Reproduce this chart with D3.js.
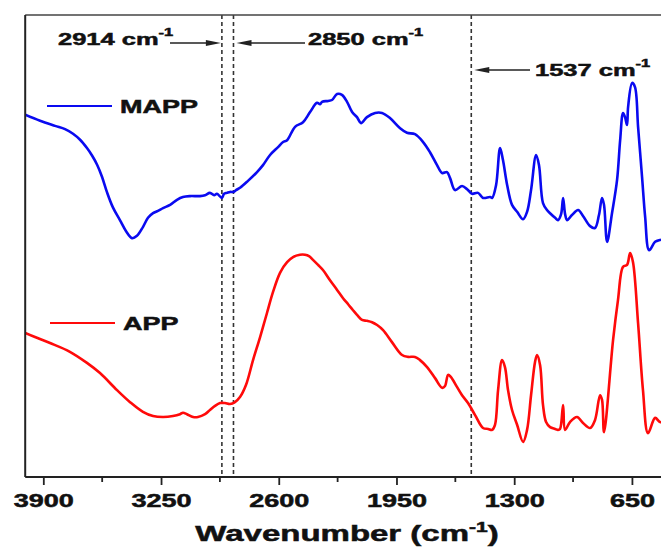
<!DOCTYPE html>
<html>
<head>
<meta charset="utf-8">
<script src="https://cdn.jsdelivr.net/npm/d3@7"></script>
<style>
  html, body { margin: 0; padding: 0; background: #fff; }
  svg { display: block; font-family: "Liberation Sans", Arial, sans-serif; font-weight: bold; }
</style>
</head>
<body>
<svg id="chart" width="661" height="550"></svg>
<script>
// FTIR spectra of MAPP and APP (transmittance, arbitrary units, offset)
const mappWavenumber = [4000,3918,3835,3780,3736,3697,3659,3631,3603,3576,3548,3515,3477,3443,3410,3383,3350,3322,3294,3267,3239,3200,3162,3129,3090,3035,3007,2980,2957,2941,2914,2902,2886,2869,2850,2836,2814,2770,2720,2687,2648,2604,2576,2554,2510,2466,2427,2389,2372,2361,2328,2306,2278,2251,2223,2195,2168,2146,2113,2068,2030,1986,1930,1892,1848,1803,1765,1726,1698,1671,1654,1627,1588,1560,1533,1500,1472,1433,1422,1400,1378,1362,1339,1312,1284,1251,1229,1207,1179,1163,1141,1119,1102,1074,1058,1041,1030,1019,1008,981,947,920,881,854,832,815,804,787,760,732,715,699,688,677,671,649,633,616,594,577,555,522,495,467];
const mappSignal = [78.4,77.1,76.0,75.3,74.3,73.0,71.2,69.6,67.6,65.0,61.6,58.3,55.6,53.2,51.7,52.2,54.1,56.1,57.1,57.6,58.2,58.9,60.0,60.6,60.8,60.8,61.0,61.5,61.0,61.3,60.4,61.3,61.5,61.7,61.7,62.1,62.6,64.1,66.0,67.5,69.7,71.4,72.5,72.9,75.8,76.8,79.0,81.0,80.7,81.2,81.4,81.6,82.9,82.7,81.2,79.0,77.9,76.6,77.9,78.8,78.8,77.7,75.5,74.5,74.2,72.5,70.3,67.5,65.8,66.0,64.7,62.1,63.0,62.3,61.3,61.5,60.4,60.6,60.4,63.2,71.2,68.6,63.2,58.9,57.4,55.8,57.4,62.1,69.7,67.5,59.3,57.8,57.1,56.1,55.6,56.9,60.4,56.9,55.6,56.7,57.8,56.5,54.3,53.9,56.7,60.4,58.9,50.9,57.1,64.3,72.9,78.8,77.9,76.2,80.1,85.3,84.4,75.8,64.9,56.3,49.1,50.9,51.3,51.5];

const appWavenumber = [4000,3946,3863,3753,3659,3587,3493,3421,3350,3294,3239,3184,3145,3129,3107,3073,3046,3007,2980,2952,2924,2897,2869,2842,2814,2781,2742,2703,2665,2632,2593,2554,2521,2483,2455,2433,2411,2383,2356,2317,2278,2245,2217,2190,2168,2140,2113,2085,2057,2024,1975,1919,1886,1848,1820,1781,1737,1698,1682,1665,1649,1616,1588,1555,1516,1472,1444,1422,1406,1389,1367,1351,1334,1312,1284,1251,1229,1207,1185,1174,1157,1141,1124,1102,1074,1058,1047,1030,1019,992,953,920,881,854,826,815,804,754,727,699,677,660,644,616,589,561,522,495,467];
const appSignal = [31.2,30.3,29.0,27.1,24.7,22.5,18.8,16.2,14.1,13.2,13.0,13.2,13.6,13.9,13.6,13.0,13.0,13.6,14.5,15.4,16.0,16.0,15.8,16.2,17.3,19.9,25.3,30.3,35.5,40.0,44.2,46.5,47.6,48.1,48.1,47.8,47.0,45.9,44.8,42.6,40.5,38.7,37.4,36.1,35.1,34.0,33.8,33.5,32.9,31.8,29.2,26.4,26.0,26.0,25.3,23.8,21.4,19.3,19.7,22.1,21.6,19.5,17.7,16.0,13.4,10.6,10.4,10.2,11.3,18.8,25.3,23.8,18.8,14.5,11.3,7.6,10.2,17.7,24.9,26.4,24.2,15.6,11.9,10.8,10.4,10.2,10.4,15.6,10.2,11.9,13.0,11.7,10.6,12.3,17.7,16.7,9.7,29.7,38.3,45.5,45.9,48.5,46.5,33.3,18.8,9.5,12.8,11.9,12.0];

const seriesNames = ["MAPP", "APP"];
const seriesColors = ["#0a0af0", "#ff0a0a"];

const majorTicks = [3900, 3250, 2600, 1950, 1300, 650];
const minorTicks = [3575, 2925, 2275, 1625, 975];
const markerBands = [2914, 2850, 1537];

const svg = d3.select("#chart");
const plotLeft = 25.2, plotRight = 677.2, plotTop = 15, plotBottom = 477;

const x = d3.scaleLinear().domain([4000, 400]).range([plotLeft, plotRight]);
const y = d3.scaleLinear().domain([0, 100]).range([plotBottom, plotTop]);

// Stretched heavy text helper (wide typeface look)
function wideText(g, tx, ty, size, anchor) {
  return g.append("text")
    .attr("transform", `translate(${tx},${ty}) scale(1.5,1)`)
    .attr("font-size", size)
    .attr("text-anchor", anchor || "start")
    .attr("fill", "#111")
    .attr("stroke", "#111")
    .attr("stroke-width", 0.5);
}

svg.append("clipPath").attr("id", "plotClip")
  .append("rect").attr("x", plotLeft).attr("y", plotTop)
  .attr("width", plotRight - plotLeft).attr("height", plotBottom - plotTop);

// Marker lines
svg.append("g").selectAll("line").data(markerBands).join("line")
  .attr("x1", d => x(d)).attr("x2", d => x(d))
  .attr("y1", plotTop).attr("y2", plotBottom)
  .attr("stroke", "#333").attr("stroke-width", 1.6)
  .attr("stroke-dasharray", "4,3");

// Spectra
const line = d3.line().x(d => x(d[0])).y(d => y(d[1])).curve(d3.curveCatmullRom.alpha(0.5));
const curves = [d3.zip(mappWavenumber, mappSignal), d3.zip(appWavenumber, appSignal)];
svg.append("g").attr("clip-path", "url(#plotClip)")
  .selectAll("path").data(curves).join("path")
  .attr("d", line)
  .attr("fill", "none")
  .attr("stroke", (d, i) => seriesColors[i])
  .attr("stroke-width", 2.6)
  .attr("stroke-linejoin", "round");

// Frame
svg.append("line").attr("x1", plotLeft).attr("x2", 661).attr("y1", plotTop).attr("y2", plotTop)
  .attr("stroke", "#444").attr("stroke-width", 1.6);
svg.append("line").attr("x1", plotLeft).attr("x2", plotLeft).attr("y1", plotTop).attr("y2", plotBottom)
  .attr("stroke", "#222").attr("stroke-width", 2);

// Bottom axis
const axis = d3.axisBottom(x).tickValues(majorTicks).tickSize(8).tickSizeOuter(0).tickFormat(d => d);
const ax = svg.append("g").attr("transform", `translate(0,${plotBottom})`).call(axis);
ax.select(".domain").attr("stroke", "#222").attr("stroke-width", 2).attr("d", `M${plotLeft},0H661`);
ax.selectAll(".tick line").attr("stroke", "#222").attr("stroke-width", 1.8);
ax.selectAll(".tick text").remove();
ax.selectAll(".tick").each(function(d) {
  wideText(d3.select(this), 0, 30, 18, "middle").text(d);
});
svg.append("g").attr("transform", `translate(0,${plotBottom})`)
  .selectAll("line").data(minorTicks).join("line")
  .attr("x1", d => x(d)).attr("x2", d => x(d)).attr("y1", 0).attr("y2", 5)
  .attr("stroke", "#222").attr("stroke-width", 1.8);

// Axis title
const title = wideText(svg, 347, 541, 22, "middle");
title.append("tspan").text("Wavenumber (cm");
title.append("tspan").attr("font-size", 14).attr("dy", -9).text("-1");
title.append("tspan").attr("dy", 9).text(")");

// Legend
const legendY = [106, 323];
const legendX = [47, 50];
seriesNames.forEach((name, i) => {
  svg.append("line")
    .attr("x1", legendX[i]).attr("x2", legendX[i] + 65)
    .attr("y1", legendY[i]).attr("y2", legendY[i])
    .attr("stroke", seriesColors[i]).attr("stroke-width", 2);
  wideText(svg, legendX[i] + 73, legendY[i] + 7, 18).text(name);
});

// Band annotations with arrows
function annotation(label, tx, ty) {
  const t = wideText(svg, tx, ty, 17);
  t.append("tspan").text(label + " cm");
  t.append("tspan").attr("font-size", 11).attr("dy", -9).text("-1");
}
function arrow(x1, x2, yy) {
  const dir = Math.sign(x2 - x1);
  svg.append("line").attr("x1", x1).attr("x2", x2 - dir * 10).attr("y1", yy).attr("y2", yy)
    .attr("stroke", "#222").attr("stroke-width", 1.3);
  svg.append("path")
    .attr("d", `M${x2},${yy} L${x2 - dir * 15},${yy - 3} L${x2 - dir * 15},${yy + 3} Z`)
    .attr("fill", "#222");
}
annotation(markerBands[0], 58, 45);
arrow(170, x(markerBands[0]) - 1, 43);
annotation(markerBands[1], 308, 45);
arrow(305, x(markerBands[1]) + 3, 43);
annotation(markerBands[2], 535, 76);
arrow(530, x(markerBands[2]) + 3, 70);
</script>
</body>
</html>
